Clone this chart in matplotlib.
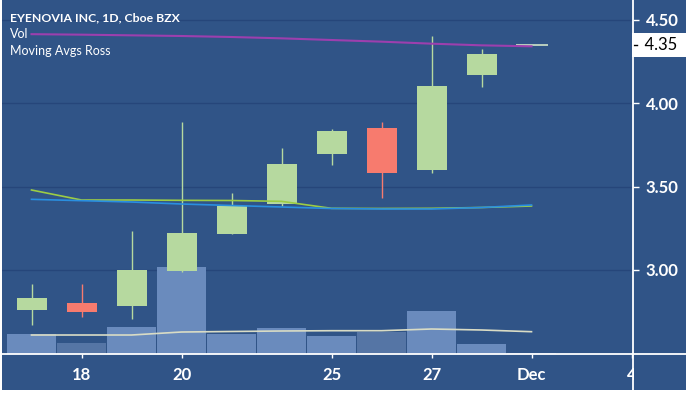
import matplotlib.pyplot as plt
from matplotlib.patches import Rectangle
from matplotlib.lines import Line2D

plt.rcParams['font.family'] = ['Lato', 'DejaVu Sans']

# Tagesdaten (Nov 15 .. Dec 2)
opens  = [2.760, 2.804, 2.786, 2.996, 3.216, 3.396, 3.696, 3.850, 3.600, 4.170, 4.350]
highs  = [2.914, 2.914, 3.234, 3.890, 3.460, 3.734, 3.846, 3.890, 4.404, 4.324, 4.350]
lows   = [2.670, 2.716, 2.704, 2.990, 3.216, 3.384, 3.630, 3.430, 3.580, 4.100, 4.350]
closes = [2.834, 2.750, 3.000, 3.220, 3.384, 3.636, 3.836, 3.580, 4.104, 4.296, 4.350]
volume = [733, 414, 979, 3200, 751, 942, 660, 817, 1576, 367, 48]  # Tsd. Stück
vol_ma = [696, 696, 696, 806, 825, 843, 854, 854, 916, 880, 817]

ma_green  = [3.480, 3.420, 3.420, 3.418, 3.417, 3.412, 3.370, 3.369, 3.370, 3.375, 3.384]
ma_blue   = [3.424, 3.416, 3.408, 3.396, 3.387, 3.378, 3.369, 3.366, 3.366, 3.375, 3.390]
ma_purple = [4.415, 4.412, 4.408, 4.404, 4.398, 4.390, 4.380, 4.370, 4.358, 4.348, 4.342]

tick_pos = [1, 3, 6, 8, 10, 12]
tick_lbl = ['18', '20', '25', '27', 'Dec', '4']
price_ticks = [3.00, 3.50, 4.00, 4.50]
last_price = 4.35

bg = '#305487'
grid_c = '#26467a'
up_c, down_c, flat_c = '#b6d99f', '#f77b6e', '#d0e4c8'
vol_up, vol_down = '#6a8bbd', '#5575a5'

W, H = 689, 395
fig = plt.figure(figsize=(W / 100, H / 100), dpi=100, facecolor='white')
fig.add_artist(Rectangle((2 / W, 5 / H), 684 / W, 390 / H, transform=fig.transFigure,
                         facecolor=bg, edgecolor='none', zorder=-1))

ax = fig.add_axes([2 / W, 41 / H, 631 / W, 354 / H])
axv = ax.twinx()
ax.set_zorder(axv.get_zorder() + 1)
ax.patch.set_visible(False)
axv.patch.set_visible(False)

x = list(range(len(opens)))

# Gitterlinien unter dem Volumen
for p in price_ticks:
    axv.add_line(Line2D([0, 1], [p, p], transform=ax.get_yaxis_transform(),
                        color=grid_c, lw=1, zorder=0))

# Volumen
vcols = [vol_down if c < o else vol_up for o, c in zip(opens, closes)]
axv.bar(x, volume, width=0.97, color=vcols, zorder=1)
axv.plot(x, vol_ma, color='#d9dcc5', lw=1.2, zorder=2)
axv.set_ylim(0, 12975)
axv.yaxis.set_visible(False)
for s in axv.spines.values():
    s.set_visible(False)

# Kerzen
for i in x:
    o, h, l, c = opens[i], highs[i], lows[i], closes[i]
    if c > o:
        col = up_c
    elif c < o:
        col = down_c
    else:
        col = flat_c
    ax.vlines(i, l, h, color=col, lw=1, zorder=2)
    if c == o:
        ax.hlines(c, i - 0.32, i + 0.32, color=col, lw=1.2, zorder=3)
    else:
        ax.bar(i, abs(c - o), bottom=min(o, c), width=0.6, color=col, zorder=3)

ax.plot(x, ma_green, color='#9ccc45', lw=1.2, zorder=4)
ax.plot(x, ma_blue, color='#2a8fe0', lw=1.2, zorder=4)
ax.plot(x, ma_purple, color='#9c3fae', lw=1.5, zorder=4)

ax.set_xlim(-0.59, 12.03)
ax.set_ylim(2.496, 4.620)
ax.set_yticks(price_ticks)
ax.set_yticklabels([f'{p:.2f}' for p in price_ticks])
ax.set_xticks(tick_pos)
ax.set_xticklabels(tick_lbl)
ax.yaxis.tick_right()
ax.tick_params(axis='y', length=4, width=1, color='white', labelcolor='white',
               labelsize=12, pad=5)
ax.tick_params(axis='x', length=3, width=1, color='white', labelcolor='white',
               labelsize=12, pad=6)
for lbl in ax.get_yticklabels() + ax.get_xticklabels():
    lbl.set_fontweight('bold')
for s in ax.spines.values():
    s.set_visible(False)

# Kursmarke
ax.annotate('  4.35  ', xy=(1, last_price), xycoords=ax.get_yaxis_transform(),
            xytext=(3, 0), textcoords='offset pixels', va='center', ha='left',
            color='black', fontsize=12, annotation_clip=False,
            bbox=dict(boxstyle='square,pad=0.25', fc='white', ec='none'))
ax.plot([1, 1 + 4 / 631], [last_price, last_price], transform=ax.get_yaxis_transform(),
        color='black', lw=1, clip_on=False, zorder=6)

# Legende oben links
fig.text(10 / W, 1 - 18 / H, 'EYENOVIA INC, 1D, Cboe BZX', color='white',
         fontsize=8.8, fontweight='bold', va='center')
fig.text(10 / W, 1 - 34 / H, 'Vol', color='white', fontsize=9, va='center')
fig.text(10 / W, 1 - 51 / H, 'Moving Avgs Ross', color='white', fontsize=9, va='center')

# Rahmen der Skalen
fig.add_artist(Rectangle((634 / W, 5 / H), 52 / W, 35 / H, transform=fig.transFigure,
                         facecolor=bg, edgecolor='none', zorder=5))
fig.add_artist(Line2D([633 / W, 633 / W], [5 / H, 1], transform=fig.transFigure,
                      color='white', lw=1.3, zorder=6))
fig.add_artist(Line2D([2 / W, 686 / W], [41 / H, 41 / H], transform=fig.transFigure,
                      color='white', lw=1.3, zorder=6))

fig.savefig('out.png', dpi=100, facecolor=fig.get_facecolor())
